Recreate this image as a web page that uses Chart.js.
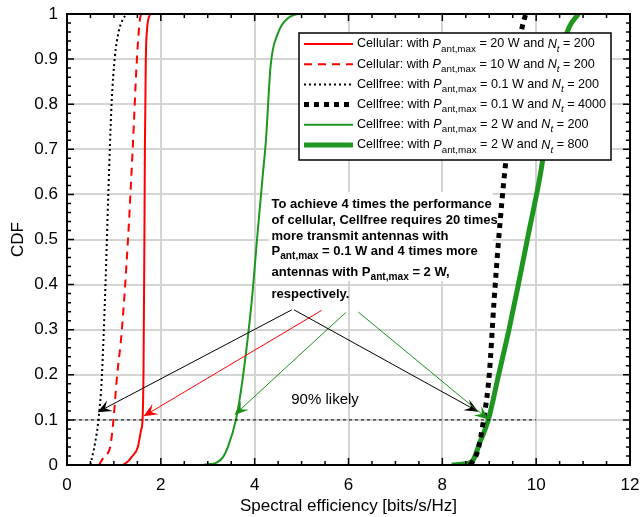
<!DOCTYPE html>
<html>
<head>
<meta charset="utf-8">
<script src="https://cdn.jsdelivr.net/npm/chart.js@4.4.0/dist/chart.umd.min.js"></script>
<style>
  html, body { margin: 0; padding: 0; background: #fff; }
  #wrap { width: 642px; height: 517px; }
</style>
</head>
<body>
<div id="wrap"><canvas id="cdfChart" width="642" height="517"></canvas></div>
<script>
// spectral efficiency (x) and CDF (y), per curve
const seCellular20 = [1.19, 1.3, 1.38, 1.51, 1.58, 1.61, 1.63, 1.65, 1.66, 1.68, 1.71, 1.77]
const cdfCellular20 = [0, 0.008, 0.018, 0.04, 0.078, 0.1, 0.2, 0.5, 0.7, 0.9, 0.97, 1.0]

const seCellular10 = [0.68, 0.8, 0.92, 0.99, 1.06, 1.17, 1.3, 1.4, 1.49, 1.55, 1.58]
const cdfCellular10 = [0, 0.02, 0.04, 0.1, 0.19, 0.3, 0.5, 0.7, 0.9, 0.985, 1.0]

const seFree01n200 = [0.5, 0.6, 0.67, 0.74, 0.82, 0.88, 0.95, 1.02, 1.1, 1.2, 1.3]
const cdfFree01n200 = [0, 0.05, 0.1, 0.19, 0.4, 0.6, 0.8, 0.905, 0.96, 0.99, 1.0]

const seFree01n4000 = [8.6, 8.75, 8.88, 9.0, 9.1, 9.2, 9.34, 9.5, 9.6, 9.7, 9.78]
const cdfFree01n4000 = [0, 0.03, 0.1, 0.2, 0.36, 0.5, 0.66, 0.8, 0.9, 0.97, 1.0]

const seFree2n200 = [2.87, 3.05, 3.19, 3.33, 3.43, 3.6, 3.74, 3.94, 4.05, 4.17, 4.24, 4.34, 4.5, 4.7, 4.9]
const cdfFree2n200 = [0, 0.002, 0.005, 0.018, 0.04, 0.1, 0.188, 0.366, 0.5, 0.64, 0.72, 0.885, 0.958, 0.99, 1.0]

const seFree2n800 = [8.2, 8.5, 8.65, 8.8, 8.98, 9.2, 9.42, 9.62, 9.85, 10.09, 10.32, 10.5, 10.7, 10.9]
const cdfFree2n800 = [0, 0.003, 0.01, 0.05, 0.1, 0.2, 0.3, 0.4, 0.52, 0.645, 0.8, 0.9, 0.97, 1.0]

// the "90% likely" reference line
const likelyX = [0, 10]
const likelyY = [0.1, 0.1]

const xTicks = [0, 2, 4, 6, 8, 10, 12]
const yTicks = [0, 0.1, 0.2, 0.3, 0.4, 0.5, 0.6, 0.7, 0.8, 0.9, 1]

// legend rows: [prefix, power, suffix]
const legendRows = [
    ["Cellular: with ", " = 20 W and ", " = 200"],
    ["Cellular: with ", " = 10 W and ", " = 200"],
    ["Cellfree: with ", " = 0.1 W and ", " = 200"],
    ["Cellfree: with ", " = 0.1 W and ", " = 4000"],
    ["Cellfree: with ", " = 2 W and ", " = 200"],
    ["Cellfree: with ", " = 2 W and ", " = 800"],
]

// arrows in data units: [fromX, fromY, toX, toY, colour]
const arrows = [
    [4.79, 0.344, 0.65, 0.117, "#000"],
    [5.43, 0.343, 1.63, 0.108, "#ff0000"],
    [5.94, 0.338, 3.57, 0.111, "#1a8f1a"],
    [4.84, 0.344, 8.77, 0.118, "#000"],
    [6.21, 0.339, 8.98, 0.101, "#1a8f1a"],
]

const green = "#1f961f"

function pts (xs, ys) {
    return xs.map((x, i) => ({ x: x, y: ys[i] }))
}

const datasets = [
    { data: pts(likelyX, likelyY), borderColor: "#000", borderWidth: 1, borderDash: [3, 3] },
    { data: pts(seCellular20, cdfCellular20), borderColor: "#ff0000", borderWidth: 2 },
    { data: pts(seCellular10, cdfCellular10), borderColor: "#ff0000", borderWidth: 2, borderDash: [8, 6] },
    { data: pts(seFree01n200, cdfFree01n200), borderColor: "#000", borderWidth: 2, borderDash: [2, 3] },
    { data: pts(seFree01n4000, cdfFree01n4000), borderColor: "#000", borderWidth: 5, borderDash: [5, 5] },
    { data: pts(seFree2n200, cdfFree2n200), borderColor: green, borderWidth: 2 },
    { data: pts(seFree2n800, cdfFree2n800), borderColor: green, borderWidth: 5 },
]
datasets.forEach(d => {
    d.showLine = true
    d.pointRadius = 0
    d.fill = false
    d.cubicInterpolationMode = "monotone"
})

// legend samples (same order as legendRows)
const legendStyles = [
    { color: "#ff0000", width: 2, dash: [] },
    { color: "#ff0000", width: 2, dash: [8, 6] },
    { color: "#000", width: 2, dash: [2, 3] },
    { color: "#000", width: 5, dash: [5, 5] },
    { color: green, width: 2, dash: [] },
    { color: green, width: 5, dash: [] },
]

const FONT = "'Liberation Sans', Arial, sans-serif"

function drawArrow (ctx, x1, y1, x2, y2, color) {
    const ang = Math.atan2(y2 - y1, x2 - x1)
    const len = 14, half = 6
    ctx.save()
    ctx.strokeStyle = color
    ctx.fillStyle = color
    ctx.lineWidth = 1
    ctx.beginPath()
    ctx.moveTo(x1, y1)
    ctx.lineTo(x2 - Math.cos(ang) * 6, y2 - Math.sin(ang) * 6)
    ctx.stroke()
    ctx.translate(x2, y2)
    ctx.rotate(ang)
    ctx.beginPath()
    ctx.moveTo(0, 0)
    ctx.lineTo(-len, -half)
    ctx.lineTo(-len * 0.6, 0)
    ctx.lineTo(-len, half)
    ctx.closePath()
    ctx.fill()
    ctx.restore()
}

// writes "P_ant,max" style text pieces, returns new x
function drawRichLine (ctx, x, y, parts, size, bold) {
    parts.forEach(p => {
        const fs = p.sub ? size * 0.78 : size
        const weight = bold ? "bold " : ""
        const style = p.italic ? "italic " : ""
        ctx.font = style + weight + fs + "px " + FONT
        ctx.fillText(p.t, x, y + (p.sub ? size * 0.38 : 0))
        x += ctx.measureText(p.t).width
    })
    return x
}

const decorPlugin = {
    id: "decor",
    afterDatasetsDraw (chart) {
        const ctx = chart.ctx
        const xs = chart.scales.x, ys = chart.scales.y
        const a = chart.chartArea

        // inward ticks on all four sides
        ctx.save()
        ctx.strokeStyle = "#000"
        ctx.lineWidth = 1.5
        ctx.beginPath()
        for (let i = 0; i <= 24; i++) {
            const v = i * 0.5
            const px = xs.getPixelForValue(v)
            const l = (i % 4 === 0) ? 7 : 4
            ctx.moveTo(px, a.bottom); ctx.lineTo(px, a.bottom - l)
            ctx.moveTo(px, a.top); ctx.lineTo(px, a.top + l)
        }
        for (let i = 0; i <= 50; i++) {
            const v = i * 0.02
            const py = ys.getPixelForValue(v)
            const l = (i % 5 === 0) ? 7 : 4
            ctx.moveTo(a.left, py); ctx.lineTo(a.left + l, py)
            ctx.moveTo(a.right, py); ctx.lineTo(a.right - l, py)
        }
        ctx.stroke()
        ctx.lineWidth = 2
        ctx.strokeRect(a.left, a.top, a.right - a.left, a.bottom - a.top)
        ctx.restore()

        // annotation text with white backing
        ctx.save()
        const bx = xs.getPixelForValue(4.3)
        const by = ys.getPixelForValue(0.605)
        ctx.fillStyle = "#fff"
        ctx.fillRect(bx, by, 224, 89)
        ctx.fillStyle = "#000"
        ctx.textBaseline = "middle"
        const tx = xs.getPixelForValue(4.36)
        const ty = by + 12
        const sz = 13
        drawRichLine(ctx, tx, ty, [{ t: "To achieve 4 times the performance" }], sz, true)
        drawRichLine(ctx, tx, ty + 16, [{ t: "of cellular, Cellfree requires 20 times" }], sz, true)
        drawRichLine(ctx, tx, ty + 32, [{ t: "more transmit antennas with" }], sz, true)
        drawRichLine(ctx, tx, ty + 47, [{ t: "P" }, { t: "ant,max", sub: true }, { t: " = 0.1 W and 4 times more" }], sz, true)
        drawRichLine(ctx, tx, ty + 68.5, [{ t: "antennas with P" }, { t: "ant,max", sub: true }, { t: " = 2 W," }], sz, true)
        drawRichLine(ctx, tx, ty + 90, [{ t: "respectively." }], sz, true)

        ctx.font = "15px " + FONT
        ctx.textAlign = "center"
        ctx.fillText("90% likely", xs.getPixelForValue(5.5), ys.getPixelForValue(0.145))
        ctx.restore()

        arrows.forEach(ar => {
            drawArrow(ctx, xs.getPixelForValue(ar[0]), ys.getPixelForValue(ar[1]),
                xs.getPixelForValue(ar[2]), ys.getPixelForValue(ar[3]), ar[4])
        })

        // legend box
        ctx.save()
        const lx = 299, ly = 33, lw = 312, lhh = 127
        ctx.fillStyle = "#fff"
        ctx.fillRect(lx, ly, lw, lhh)
        ctx.strokeStyle = "#000"
        ctx.lineWidth = 1.5
        ctx.strokeRect(lx, ly, lw, lhh)
        ctx.textBaseline = "middle"
        legendRows.forEach((row, i) => {
            const y = ly + 11 + i * 20.2
            const st = legendStyles[i]
            ctx.beginPath()
            ctx.strokeStyle = st.color
            ctx.lineWidth = st.width
            ctx.setLineDash(st.dash)
            ctx.moveTo(304, y)
            ctx.lineTo(353, y)
            ctx.stroke()
            ctx.setLineDash([])
            ctx.fillStyle = "#000"
            drawRichLine(ctx, 357, y, [
                { t: row[0] }, { t: "P", italic: true }, { t: "ant,max", sub: true },
                { t: row[1] }, { t: "N", italic: true }, { t: "t", italic: true, sub: true },
                { t: row[2] }
            ], 12.6, false)
        })
        ctx.restore()
    }
}

const config = {
    type: "scatter",
    data: { datasets },
    options: {
        responsive: false,
        animation: false,
        layout: { padding: { top: 14, right: 12, left: 0, bottom: 0 } },
        plugins: { legend: { display: false }, tooltip: { enabled: false } },
        scales: {
            x: {
                type: "linear",
                min: 0,
                max: 12,
                afterBuildTicks: s => { s.ticks = xTicks.map(v => ({ value: v })) },
                afterFit: s => { s.height = 52; s.paddingLeft = 0; s.paddingRight = 0 },
                grid: { color: "#d4d4d4", lineWidth: 2, drawTicks: false },
                border: { display: false },
                ticks: { color: "#000", font: { family: FONT, size: 17 }, padding: 10, maxRotation: 0 },
                title: { display: true, text: "Spectral efficiency [bits/s/Hz]", color: "#000",
                    font: { family: FONT, size: 17 }, padding: { top: 0, bottom: 0 } }
            },
            y: {
                type: "linear",
                min: 0,
                max: 1,
                afterBuildTicks: s => { s.ticks = yTicks.map(v => ({ value: v })) },
                afterFit: s => { s.width = 67; s.paddingTop = 0; s.paddingBottom = 0 },
                grid: { color: "#d4d4d4", lineWidth: 2, drawTicks: false },
                border: { display: false },
                ticks: { color: "#000", font: { family: FONT, size: 17 }, padding: 9,
                    callback: v => String(Math.round(v * 10) / 10) },
                title: { display: true, text: "CDF", color: "#000",
                    font: { family: FONT, size: 17 }, padding: { top: 8, bottom: 0 } }
            }
        }
    },
    plugins: [decorPlugin]
}

const cdfChart = new Chart(document.getElementById("cdfChart"), config)
</script>
</body>
</html>
